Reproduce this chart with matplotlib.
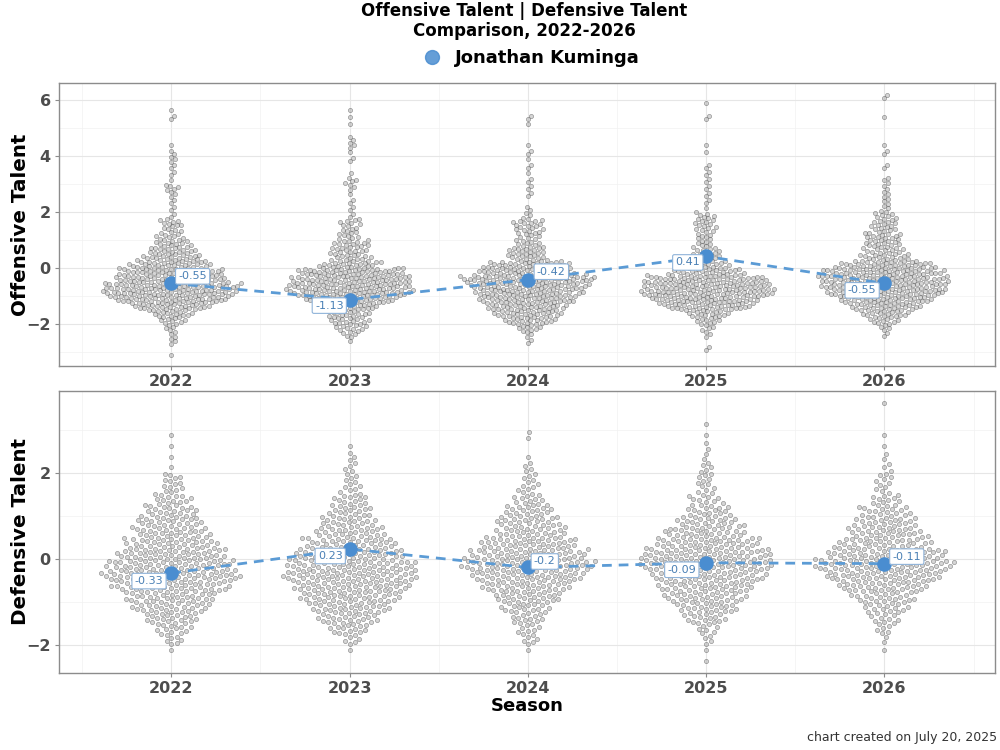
import numpy as np
import matplotlib.pyplot as plt
from matplotlib.lines import Line2D

seasons = [2022, 2023, 2024, 2025, 2026]
player = "Jonathan Kuminga"
off_player = [-0.55, -1.13, -0.42, 0.41, -0.55]
def_player = [-0.33, 0.23, -0.2, -0.09, -0.11]

bin_w = 0.25
off_start = -3.5   # 40 bins, -3.5 .. 6.5
off_2022 = [0, 1, 0, 3, 3, 4, 9, 14, 26, 39, 45, 45, 37, 35, 27, 20, 16, 12, 9, 6,
            8, 2, 2, 2, 3, 5, 1, 2, 2, 3, 2, 1, 0, 0, 0, 2, 1, 0, 0, 0]
off_2023 = [0, 0, 0, 1, 5, 10, 13, 14, 19, 32, 42, 42, 40, 37, 20, 13, 12, 12, 7, 6,
            7, 2, 2, 2, 1, 3, 4, 1, 0, 2, 1, 3, 2, 0, 1, 1, 1, 0, 0, 0]
off_2024 = [0, 0, 0, 2, 3, 9, 17, 23, 27, 33, 36, 40, 45, 33, 29, 13, 13, 9, 7, 9,
            10, 3, 2, 0, 2, 2, 2, 1, 2, 1, 2, 1, 0, 0, 1, 2, 0, 0, 0, 0]
off_2025 = [0, 0, 2, 0, 3, 4, 9, 14, 30, 37, 45, 43, 40, 23, 14, 10, 9, 6, 6, 7,
            7, 6, 1, 2, 2, 2, 2, 2, 2, 0, 1, 1, 0, 0, 0, 2, 0, 1, 0, 0]
off_2026 = [0, 0, 0, 0, 2, 4, 10, 16, 24, 32, 40, 42, 43, 40, 32, 16, 13, 12, 12, 9,
            9, 7, 3, 3, 3, 2, 3, 0, 2, 0, 2, 1, 0, 0, 0, 1, 0, 0, 2, 0]

def_start = -2.75  # 26 bins, -2.75 .. 3.75
def_2022 = [0, 0, 1, 7, 12, 19, 26, 31, 40, 48, 44, 38, 31, 26, 22, 18, 13, 8, 7, 1,
            1, 1, 1, 0, 0, 0]
def_2023 = [0, 0, 1, 6, 14, 21, 28, 35, 41, 47, 43, 38, 31, 24, 19, 15, 12, 7, 5, 4,
            3, 1, 0, 0, 0, 0]
def_2024 = [0, 0, 1, 6, 8, 12, 17, 24, 31, 40, 46, 40, 34, 24, 21, 17, 11, 7, 5, 4,
            1, 0, 2, 0, 0, 0]
def_2025 = [0, 1, 1, 4, 7, 15, 21, 28, 33, 40, 47, 45, 36, 28, 21, 15, 10, 6, 6, 5,
            2, 2, 1, 1, 0, 0]
def_2026 = [0, 0, 1, 2, 6, 10, 15, 21, 31, 41, 48, 41, 31, 26, 21, 16, 10, 5, 6, 3,
            2, 1, 1, 0, 0, 1]

off_counts = [off_2022, off_2023, off_2024, off_2025, off_2026]
def_counts = [def_2022, def_2023, def_2024, def_2025, def_2026]


def expand(counts, start):
    vals = []
    for i, c in enumerate(counts):
        lo = start + i * bin_w
        vals += [lo + bin_w * (k + 0.5) / c for k in range(c)]
    return np.array(vals)


def swarm(vals, ppu_x, ppu_y, spacing):
    # simple beeswarm in pixel space, points placed bottom to top
    v = np.sort(vals)
    y = v * ppu_y
    xs = np.zeros(len(y))
    for i in range(len(y)):
        near = np.where(y[i] - y[:i] < spacing)[0]
        if len(near) == 0:
            continue
        nx = xs[near]
        dy = y[i] - y[near]
        dx = np.sqrt(spacing ** 2 - dy ** 2)
        cands = np.concatenate([[0.0], nx + dx, nx - dx])
        cands = cands[np.argsort(np.abs(cands), kind="stable")]
        for c in cands:
            if np.all((nx - c) ** 2 + dy ** 2 >= spacing ** 2 - 1e-6):
                xs[i] = c
                break
    return xs / ppu_x, v


blue = "#4a8dd0"
line_blue = "#5b9bd5"
grey_txt = "#4d4d4d"

fig = plt.figure(figsize=(10, 7.5), dpi=100)
ax_off = fig.add_axes([0.059, 0.512, 0.936, 0.3773])
ax_def = fig.add_axes([0.059, 0.1027, 0.936, 0.376])

panels = [
    (ax_off, off_counts, off_start, off_player, (-3.5, 6.6), [-2, 0, 2, 4, 6], [-3, -1, 1, 3, 5],
     "Offensive Talent", 4.6,
     [(7, 7, "left"), (-6, -6, "right"), (9, 8, "left"), (-6, -6, "right"), (-8, -7, "right")]),
    (ax_def, def_counts, def_start, def_player, (-2.65, 3.9), [-2, 0, 2], [-1, 1, 3],
     "Defensive Talent", 5.6,
     [(-8, -8, "right"), (-7, -7, "right"), (6, 6, "left"), (-10, -7, "right"), (8, 7, "left")]),
]

for ax, counts, start, pvals, ylim, yticks, yminor, ylabel, spacing, offs in panels:
    ax.set_xticks(seasons)
    ax.set_xticks([s + 0.5 for s in [2021] + seasons], minor=True)
    ax.set_yticks(yticks)
    ax.set_yticks(yminor, minor=True)
    ax.set_xlim(2021.37, 2026.62)
    ax.set_ylim(*ylim)
    ax.grid(True, which="major", color="#e6e6e6", lw=0.8)
    ax.grid(True, which="minor", color="#f2f2f2", lw=0.5)
    ax.set_axisbelow(True)
    for sp in ax.spines.values():
        sp.set_color("#8c8c8c")
        sp.set_linewidth(1.0)
    ax.tick_params(which="major", length=3, width=0.8, color="#8c8c8c",
                   labelcolor=grey_txt, labelsize=11.5, pad=3)
    ax.tick_params(which="minor", length=0)
    for lab in ax.get_xticklabels() + ax.get_yticklabels():
        lab.set_fontweight("bold")
    ax.set_ylabel(ylabel, fontsize=14.3, fontweight="bold", color="black")
    ax.yaxis.set_label_coords(-0.031, 0.5)

    bb = ax.get_window_extent()
    ppu_x = bb.width / (ax.get_xlim()[1] - ax.get_xlim()[0])
    ppu_y = bb.height / (ylim[1] - ylim[0])

    for season, c in zip(seasons, counts):
        dx, v = swarm(expand(c, start), ppu_x, ppu_y, spacing)
        ax.scatter(season + dx, v, s=9, facecolor=(0.6, 0.6, 0.6, 0.4),
                   edgecolor=(0.3, 0.3, 0.3, 0.55), linewidth=0.5, zorder=2)

    ax.plot(seasons, pvals, color=line_blue, lw=2, ls=(0, (3.5, 2.5)), zorder=3)
    ax.scatter(seasons, pvals, s=110, color=blue, zorder=4, linewidth=0)
    for season, val, (ox, oy, ha) in zip(seasons, pvals, offs):
        ax.annotate(f"{val:g}", (season, val), xytext=(ox, oy), textcoords="offset pixels",
                    ha=ha, va="center", fontsize=8, color="#4a80b5", zorder=5,
                    bbox=dict(boxstyle="round,pad=0.25,rounding_size=0.15", fc="white",
                              ec="#8fb3d9", lw=0.8))

ax_def.set_xlabel("Season", fontsize=13, fontweight="bold")
ax_def.xaxis.set_label_coords(0.5, -0.085)

fig.text(0.524, 1 - 21 / 750, "Offensive Talent | Defensive Talent\nComparison, 2022-2026",
         ha="center", va="center", fontsize=12, fontweight="bold", linespacing=1.1)
fig.legend(handles=[Line2D([], [], marker="o", ls="", color=blue, ms=10, alpha=0.85)],
           labels=[player], loc="center", bbox_to_anchor=(0.527, 1 - 58 / 750),
           frameon=False, prop=dict(size=13, weight="bold"), handletextpad=0.25)
fig.text(0.997, 1 - 738 / 750, "chart created on July 20, 2025", ha="right", va="center",
         fontsize=9, color="#333333")

fig.savefig("out.png", dpi=100)
